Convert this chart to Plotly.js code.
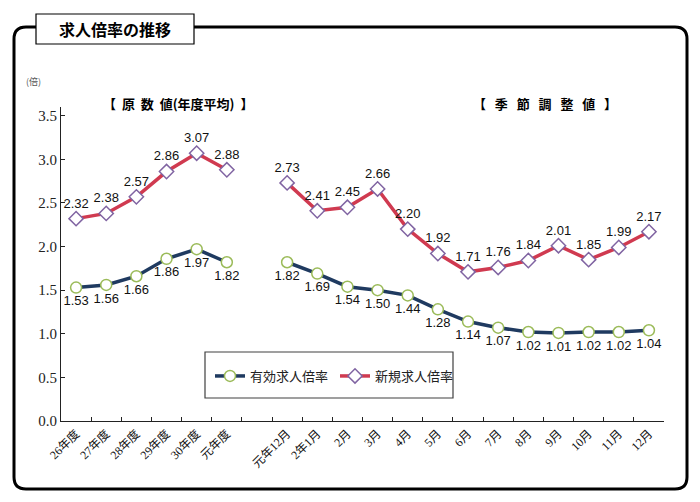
<!DOCTYPE html>
<html>
<head>
<meta charset="utf-8">
<script src="https://cdn.plot.ly/plotly-3.0.1.min.js"></script>
<style>html,body{margin:0;padding:0;background:#fff;}#chart{width:700px;height:502px;}</style>
</head>
<body>
<div id="chart"></div>
<script>
// ---- data ----
const annualCats = ["26年度","27年度","28年度","29年度","30年度","元年度"];
const gapCat = " ";
const monthCats = ["元年12月","2年1月","2月","3月","4月","5月","6月","7月","8月","9月","10月","11月","12月"];
const yukoAnnual = [1.53,1.56,1.66,1.86,1.97,1.82];
const shinkiAnnual = [2.32,2.38,2.57,2.86,3.07,2.88];
const yukoMonthly = [1.82,1.69,1.54,1.50,1.44,1.28,1.14,1.07,1.02,1.01,1.02,1.02,1.04];
const shinkiMonthly = [2.73,2.41,2.45,2.66,2.20,1.92,1.71,1.76,1.84,2.01,1.85,1.99,2.17];
const yTicks = [0,0.5,1.0,1.5,2.0,2.5,3.0,3.5];

// ---- layout geometry ----
const W = 700, H = 502, L = 61, R = 36, T = 107, B = 81;
const PW = W - L - R, PH = H - T - B;
const px = x => (x - L) / PW;
const py = y => (H - B - y) / PH;

const cats = annualCats.concat([gapCat], monthCats);
const yuko = yukoAnnual.concat([null], yukoMonthly);
const shinki = shinkiAnnual.concat([null], shinkiMonthly);
const fmt = v => v === null ? "" : v.toFixed(2);

const labelFont = {family: "Liberation Sans, Arial, sans-serif", size: 13, color: "#111"};

const traces = [
  {
    name: "有効求人倍率", x: cats, y: yuko, type: "scatter", mode: "lines+markers+text",
    connectgaps: false,
    line: {color: "#1F3A60", width: 3.5},
    marker: {symbol: "circle", size: 11, color: "#ffffff", line: {color: "#9BBB59", width: 1.5}},
    text: yuko.map(fmt), textposition: "bottom center", textfont: labelFont,
    cliponaxis: false, hoverinfo: "skip"
  },
  {
    name: "新規求人倍率", x: cats, y: shinki, type: "scatter", mode: "lines+markers+text",
    connectgaps: false,
    line: {color: "#D03A50", width: 3.5},
    marker: {symbol: "diamond", size: 11, color: "#ffffff", line: {color: "#8064A2", width: 1.5}},
    text: shinki.map(fmt), textposition: "top center", textfont: labelFont,
    cliponaxis: false, hoverinfo: "skip"
  }
];

const r = 12;
const x0 = px(14), x1 = px(687), y0 = py(27), y1 = py(489);
const rx = r / PW, ry = r / PH;
const framePath = `M ${x0 + rx} ${y0} L ${x1 - rx} ${y0} Q ${x1} ${y0} ${x1} ${y0 - ry} ` +
  `L ${x1} ${y1 + ry} Q ${x1} ${y1} ${x1 - rx} ${y1} L ${x0 + rx} ${y1} Q ${x0} ${y1} ${x0} ${y1 + ry} ` +
  `L ${x0} ${y0 - ry} Q ${x0} ${y0} ${x0 + rx} ${y0} Z`;

const layout = {
  width: W, height: H, autosize: false,
  margin: {l: L, r: R, t: T, b: B, pad: 0},
  paper_bgcolor: "#ffffff", plot_bgcolor: "#ffffff",
  showlegend: true,
  legend: {
    orientation: "h", x: px(210), y: py(376), xanchor: "left", yanchor: "middle",
    bgcolor: "rgba(0,0,0,0)", borderwidth: 0,
    font: {family: "Noto Sans CJK JP, sans-serif", size: 13, color: "#222"},
    entrywidth: 80, entrywidthmode: "pixels", itemclick: false
  },
  xaxis: {
    type: "category", categoryorder: "array", categoryarray: cats,
    range: [-0.5, cats.length - 0.5],
    showgrid: false, zeroline: false, showline: true, linecolor: "#222", linewidth: 1,
    ticks: "inside", tickson: "boundaries", ticklen: 4, tickcolor: "#222",
    tickangle: -45,
    tickfont: {family: "Liberation Serif, Noto Sans CJK JP, serif", size: 12, color: "#111"}
  },
  yaxis: {
    range: [0, 3.6], tickvals: yTicks, ticktext: yTicks.map(v => v.toFixed(1)),
    showgrid: false, zeroline: false, showline: true, linecolor: "#222", linewidth: 1,
    ticks: "inside", ticklen: 4, tickcolor: "#222",
    tickfont: {family: "Liberation Serif, Times New Roman, serif", size: 15, color: "#222"}
  },
  shapes: [
    {type: "path", xref: "paper", yref: "paper", path: framePath,
     line: {color: "#000", width: 3}, fillcolor: "rgba(0,0,0,0)", layer: "above"},
    {type: "rect", xref: "paper", yref: "paper", x0: px(36), x1: px(194), y0: py(14), y1: py(44),
     line: {color: "#000", width: 1.2}, fillcolor: "#ffffff", layer: "above"},
    {type: "rect", xref: "paper", yref: "paper", x0: px(205), x1: px(453), y0: py(352), y1: py(398),
     line: {color: "#404040", width: 1.2}, fillcolor: "rgba(0,0,0,0)", layer: "above"}
  ],
  annotations: [
    {xref: "paper", yref: "paper", x: px(115), y: py(29), xanchor: "center", yanchor: "middle",
     text: "<b>求人倍率の推移</b>", showarrow: false,
     font: {family: "Noto Sans CJK JP, sans-serif", size: 16, color: "#000"}},
    {xref: "paper", yref: "paper", x: px(33), y: py(81), xanchor: "center", yanchor: "middle",
     text: "(倍)", showarrow: false,
     font: {family: "Noto Sans CJK JP, sans-serif", size: 9, color: "#555"}},
    {xref: "paper", yref: "paper", x: px(178), y: py(104), xanchor: "center", yanchor: "middle",
     text: "<b>【\u00a0\u00a0原\u00a0\u00a0数\u00a0\u00a0値(年度平均)\u00a0\u00a0】</b>", showarrow: false,
     font: {family: "Noto Sans CJK JP, sans-serif", size: 13, color: "#000"}},
    {xref: "paper", yref: "paper", x: px(545), y: py(104), xanchor: "center", yanchor: "middle",
     text: "<b>【\u00a0\u00a0\u00a0季\u00a0\u00a0\u00a0節\u00a0\u00a0\u00a0調\u00a0\u00a0\u00a0整\u00a0\u00a0\u00a0値\u00a0\u00a0\u00a0】</b>", showarrow: false,
     font: {family: "Noto Sans CJK JP, sans-serif", size: 13, color: "#000"}}
  ]
};

Plotly.newPlot("chart", traces, layout, {displayModeBar: false, staticPlot: true});
</script>
</body>
</html>
